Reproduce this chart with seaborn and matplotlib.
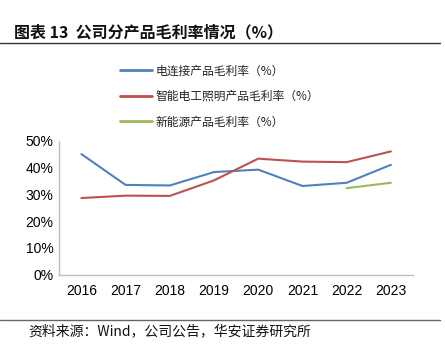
import numpy as np
import pandas as pd
import matplotlib
matplotlib.use("Agg")
import matplotlib.pyplot as plt
import seaborn as sns
from matplotlib.lines import Line2D

years = [2016, 2017, 2018, 2019, 2020, 2021, 2022, 2023]
connector = [45.0, 33.5, 33.3, 38.3, 39.2, 33.1, 34.3, 41.0]
lighting = [28.6, 29.5, 29.4, 35.2, 43.3, 42.2, 42.0, 46.0]
newenergy = [np.nan, np.nan, np.nan, np.nan, np.nan, np.nan, 32.3, 34.3]
series_names = ["电连接产品毛利率（%）", "智能电工照明产品毛利率（%）", "新能源产品毛利率（%）"]
colors = ["#4F81BD", "#C0504D", "#9BBB59"]
yticks = [0, 10, 20, 30, 40, 50]

df = pd.DataFrame({
    "year": years * 3,
    "value": connector + lighting + newenergy,
    "series": [series_names[0]] * 8 + [series_names[1]] * 8 + [series_names[2]] * 8,
}).dropna()

sns.set_theme(style="white")
plt.rcParams["font.family"] = ["Noto Sans CJK SC", "DejaVu Sans"]

fig = plt.figure(figsize=(4.45, 3.48), dpi=100)
ax = fig.add_axes([59.3 / 445, 1 - 274.7 / 348, (413 - 59.3) / 445, (274.7 - 140.7) / 348])

sns.lineplot(data=df, x="year", y="value", hue="series", hue_order=series_names,
             palette=colors, linewidth=1.5, ax=ax, legend=False)

ax.set_xlim(2015.5, 2023.5)
ax.set_ylim(0, 50)
ax.set_xticks(years)
ax.set_xticklabels([str(y) for y in years], fontfamily="Liberation Sans", fontsize=10)
ax.set_yticks(yticks)
ax.set_yticklabels([f"{v}%" for v in yticks], fontfamily="Liberation Sans", fontsize=10)
ax.set_xlabel("")
ax.set_ylabel("")
ax.tick_params(axis="both", length=0, pad=4, colors="#000000")
ax.tick_params(axis="x", pad=7)
for s in ["top", "right"]:
    ax.spines[s].set_visible(False)
for s in ["left", "bottom"]:
    ax.spines[s].set_color("#BFBFBF")
    ax.spines[s].set_linewidth(1.0)

handles = [Line2D([0], [0], color=c, lw=2) for c in colors]
leg = fig.legend(handles, series_names, loc="upper left",
                 bbox_to_anchor=(109 / 445, 1 - 54 / 348), frameon=False,
                 fontsize=8.5, handlelength=2.7, handletextpad=0.3, labelspacing=1.05)
for t in leg.get_texts():
    t.set_color("#222222")

fig.text(14 / 445, 1 - 32 / 348, "图表 13  公司分产品毛利率情况（%）", fontsize=11.5,
         fontweight="bold", va="center", ha="left", color="#111111")
fig.add_artist(Line2D([0, 440 / 445], [1 - 42.5 / 348, 1 - 42.5 / 348], color="#333333", lw=1.0))
fig.add_artist(Line2D([0, 440 / 445], [1 - 319.5 / 348, 1 - 319.5 / 348], color="#666666", lw=1.0))
fig.text(28 / 445, 1 - 331 / 348, "资料来源：Wind，公司公告，华安证券研究所", fontsize=10,
         va="center", ha="left", color="#111111")

fig.savefig("out.png", dpi=100)
